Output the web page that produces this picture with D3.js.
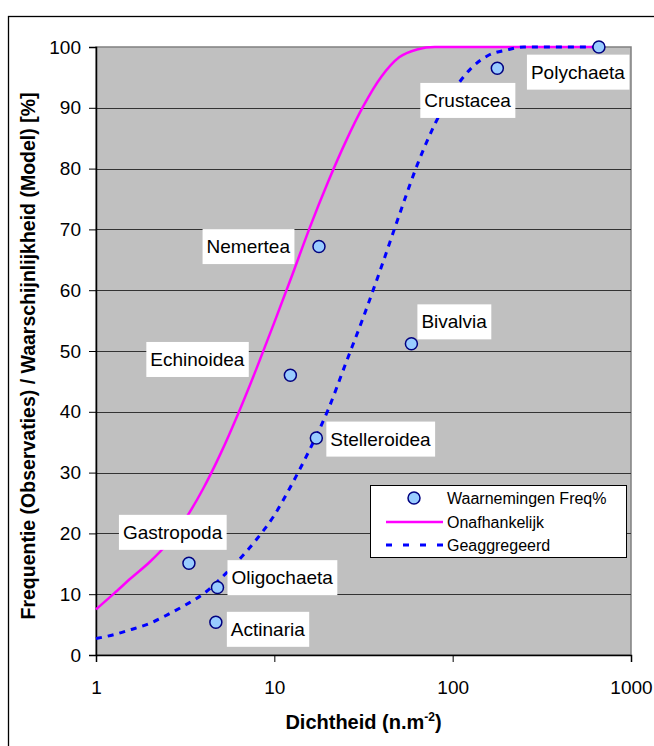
<!DOCTYPE html>
<html>
<head>
<meta charset="utf-8">
<script src="https://cdn.jsdelivr.net/npm/d3@7"></script>
<style>
  html, body { margin: 0; padding: 0; background: #fff; }
  svg { display: block; font-family: Arial, "Liberation Sans", sans-serif; }
</style>
</head>
<body>
<svg id="chart" width="654" height="746"></svg>
<script>
// Observed frequencies per taxon
const taxa      = ["Polychaeta", "Crustacea", "Nemertea", "Echinoidea", "Bivalvia", "Stelleroidea", "Gastropoda", "Oligochaeta", "Actinaria"];
const densities = [661, 178, 17.8, 12.3, 58.7, 17.2, 3.32, 4.8, 4.7];
const freqPct   = [100, 96.5, 67.2, 46.0, 51.2, 35.7, 15.1, 11.1, 5.4];

// Model curve: independent occurrence
const indepX = [1, 1.26, 1.58, 2, 2.51, 3.16, 3.98, 5.01, 6.31, 7.94, 10, 12.6, 15.8, 20, 25.1, 31.6, 39.8, 50.1, 63.1, 79.4, 661];
const indepY = [7.5, 10.1, 12.7, 15.3, 18.3, 22.3, 27.3, 33.2, 39.9, 47.1, 54.7, 62.5, 70.3, 77.8, 84.4, 90.3, 95.1, 98.3, 99.6, 100, 100];

// Model curve: aggregated occurrence
const aggrX = [1, 1.26, 1.58, 2, 2.51, 3.16, 3.98, 5.01, 6.31, 7.94, 10, 12.6, 15.8, 20, 25.1, 31.6, 39.8, 50.1, 63.1, 79.4, 100, 126, 158, 200, 251, 661];
const aggrY = [2.7, 3.35, 4.2, 5.2, 6.6, 8.2, 10.0, 12.6, 15.6, 19.0, 23.0, 28.2, 33.8, 40.3, 47.9, 55.6, 63.8, 72.3, 80.5, 87.3, 92.6, 96.4, 98.6, 99.5, 100, 100];

// Axis ticks
const xTicks = [1, 10, 100, 1000];
const yTicks = [0, 10, 20, 30, 40, 50, 60, 70, 80, 90, 100];

// Legend entries
const legendLabels = ["Waarnemingen Freq%", "Onafhankelijk", "Geaggregeerd"];

// Label placement relative to each point: [dx, dy, anchor]
const labelOffsets = {
  "Polychaeta":   [-68, 25, "start"],
  "Crustacea":    [-73, 32, "start"],
  "Nemertea":     [-29, 0, "end"],
  "Echinoidea":   [-46, -16, "end"],
  "Bivalvia":     [10, -22, "start"],
  "Stelleroidea": [14, 1, "start"],
  "Gastropoda":   [-66, -31, "start"],
  "Oligochaeta":  [14, -10, "start"],
  "Actinaria":    [15, 7, "start"]
};

const svg = d3.select("#chart");
const plot = { left: 96, right: 631, top: 47, bottom: 655 };

const x = d3.scaleLog().domain([1, 1000]).range([plot.left, plot.right]);
const y = d3.scaleLinear().domain([0, 100]).range([plot.bottom, plot.top]);

// Outer chart frame
svg.append("rect")
  .attr("x", 8.5).attr("y", 16.5)
  .attr("width", 700).attr("height", 800)
  .attr("fill", "none").attr("stroke", "#000").attr("stroke-width", 1.3);

// Plot background
svg.append("rect")
  .attr("x", plot.left).attr("y", plot.top)
  .attr("width", plot.right - plot.left).attr("height", plot.bottom - plot.top)
  .attr("fill", "#C0C0C0").attr("stroke", "#808080").attr("stroke-width", 1.5);

// Horizontal gridlines
svg.append("g").selectAll("line")
  .data(yTicks.filter(d => d > 0 && d < 100))
  .join("line")
  .attr("x1", plot.left).attr("x2", plot.right)
  .attr("y1", d => Math.round(y(d)) + 0.5).attr("y2", d => Math.round(y(d)) + 0.5)
  .attr("stroke", "#333").attr("stroke-width", 1.2);

// Y axis
const yAxis = svg.append("g")
  .attr("transform", `translate(${plot.left},0)`)
  .call(d3.axisLeft(y).tickValues(yTicks).tickSize(7).tickPadding(8).tickFormat(d3.format("d")));
yAxis.select(".domain").attr("stroke", "#000").attr("stroke-width", 1.5);
yAxis.selectAll(".tick line").attr("stroke", "#000");
yAxis.selectAll("text").attr("font-size", 19).attr("fill", "#000")
  .attr("font-family", "Arial, 'Liberation Sans', sans-serif");

// X axis
const xAxis = svg.append("g")
  .attr("transform", `translate(0,${plot.bottom})`)
  .call(d3.axisBottom(x).tickValues(xTicks).tickSize(7).tickPadding(19).tickFormat(d3.format("d")));
xAxis.select(".domain").attr("stroke", "#000").attr("stroke-width", 1.5);
xAxis.selectAll(".tick line").attr("stroke", "#000");
xAxis.selectAll("text").attr("font-size", 19).attr("fill", "#000")
  .attr("font-family", "Arial, 'Liberation Sans', sans-serif");

// Model curves
const line = d3.line().x(d => x(d[0])).y(d => y(d[1])).curve(d3.curveMonotoneX);

svg.append("path")
  .datum(indepX.map((d, i) => [d, indepY[i]]))
  .attr("d", line)
  .attr("fill", "none").attr("stroke", "#FF00FF").attr("stroke-width", 2.5);

svg.append("path")
  .datum(aggrX.map((d, i) => [d, aggrY[i]]))
  .attr("d", line)
  .attr("fill", "none").attr("stroke", "#0000FF").attr("stroke-width", 3)
  .attr("stroke-dasharray", "6,6");

// Observation points
const obs = taxa.map((t, i) => ({ name: t, dx: densities[i], v: freqPct[i] }));

svg.append("g").selectAll("circle")
  .data(obs)
  .join("circle")
  .attr("cx", d => x(d.dx)).attr("cy", d => y(d.v)).attr("r", 6)
  .attr("fill", "#99CCFF").attr("stroke", "#000080").attr("stroke-width", 1.5);

// Point labels on white boxes
const labels = svg.append("g").selectAll("g")
  .data(obs)
  .join("g");

labels.append("text")
  .attr("x", d => x(d.dx) + labelOffsets[d.name][0])
  .attr("y", d => y(d.v) + labelOffsets[d.name][1])
  .attr("dy", "0.35em")
  .attr("text-anchor", d => labelOffsets[d.name][2])
  .attr("font-size", 19)
  .attr("fill", "#000")
  .text(d => d.name);

labels.each(function() {
  const g = d3.select(this);
  const bb = g.select("text").node().getBBox();
  const cy = bb.y + bb.height / 2;
  g.insert("rect", "text")
    .attr("x", bb.x - 4).attr("y", cy - 17.5)
    .attr("width", bb.width + 8).attr("height", 35)
    .attr("fill", "#fff");
});

// Legend
const legend = svg.append("g");
legend.append("rect")
  .attr("x", 370.5).attr("y", 485.5).attr("width", 256).attr("height", 72)
  .attr("fill", "#fff").attr("stroke", "#000").attr("stroke-width", 1);

const legendRows = [498, 522, 545];
legend.append("circle")
  .attr("cx", 414).attr("cy", legendRows[0]).attr("r", 6)
  .attr("fill", "#99CCFF").attr("stroke", "#000080").attr("stroke-width", 1.5);
legend.append("line")
  .attr("x1", 386).attr("x2", 443).attr("y1", legendRows[1]).attr("y2", legendRows[1])
  .attr("stroke", "#FF00FF").attr("stroke-width", 2.5);
legend.append("line")
  .attr("x1", 386).attr("x2", 443).attr("y1", legendRows[2]).attr("y2", legendRows[2])
  .attr("stroke", "#0000FF").attr("stroke-width", 3).attr("stroke-dasharray", "6,11");

legend.selectAll("text.leg")
  .data(legendLabels)
  .join("text")
  .attr("class", "leg")
  .attr("x", 447).attr("y", (d, i) => legendRows[i])
  .attr("dy", "0.35em")
  .attr("font-size", 16).attr("fill", "#000")
  .text(d => d);

// Axis titles
const xTitle = svg.append("text")
  .attr("x", (plot.left + plot.right) / 2).attr("y", 729)
  .attr("text-anchor", "middle")
  .attr("font-size", 20).attr("font-weight", "bold").attr("fill", "#000");
xTitle.append("tspan").text("Dichtheid (n.m");
xTitle.append("tspan").attr("font-size", 12).attr("dy", -8).text("-2");
xTitle.append("tspan").attr("dy", 8).text(")");

svg.append("text")
  .attr("transform", `translate(35,${(plot.top + plot.bottom) / 2 + 5}) rotate(-90)`)
  .attr("text-anchor", "middle")
  .attr("font-size", 19.5).attr("font-weight", "bold").attr("fill", "#000")
  .text("Frequentie (Observaties) / Waarschijnlijkheid (Model) [%]");
</script>
</body>
</html>
